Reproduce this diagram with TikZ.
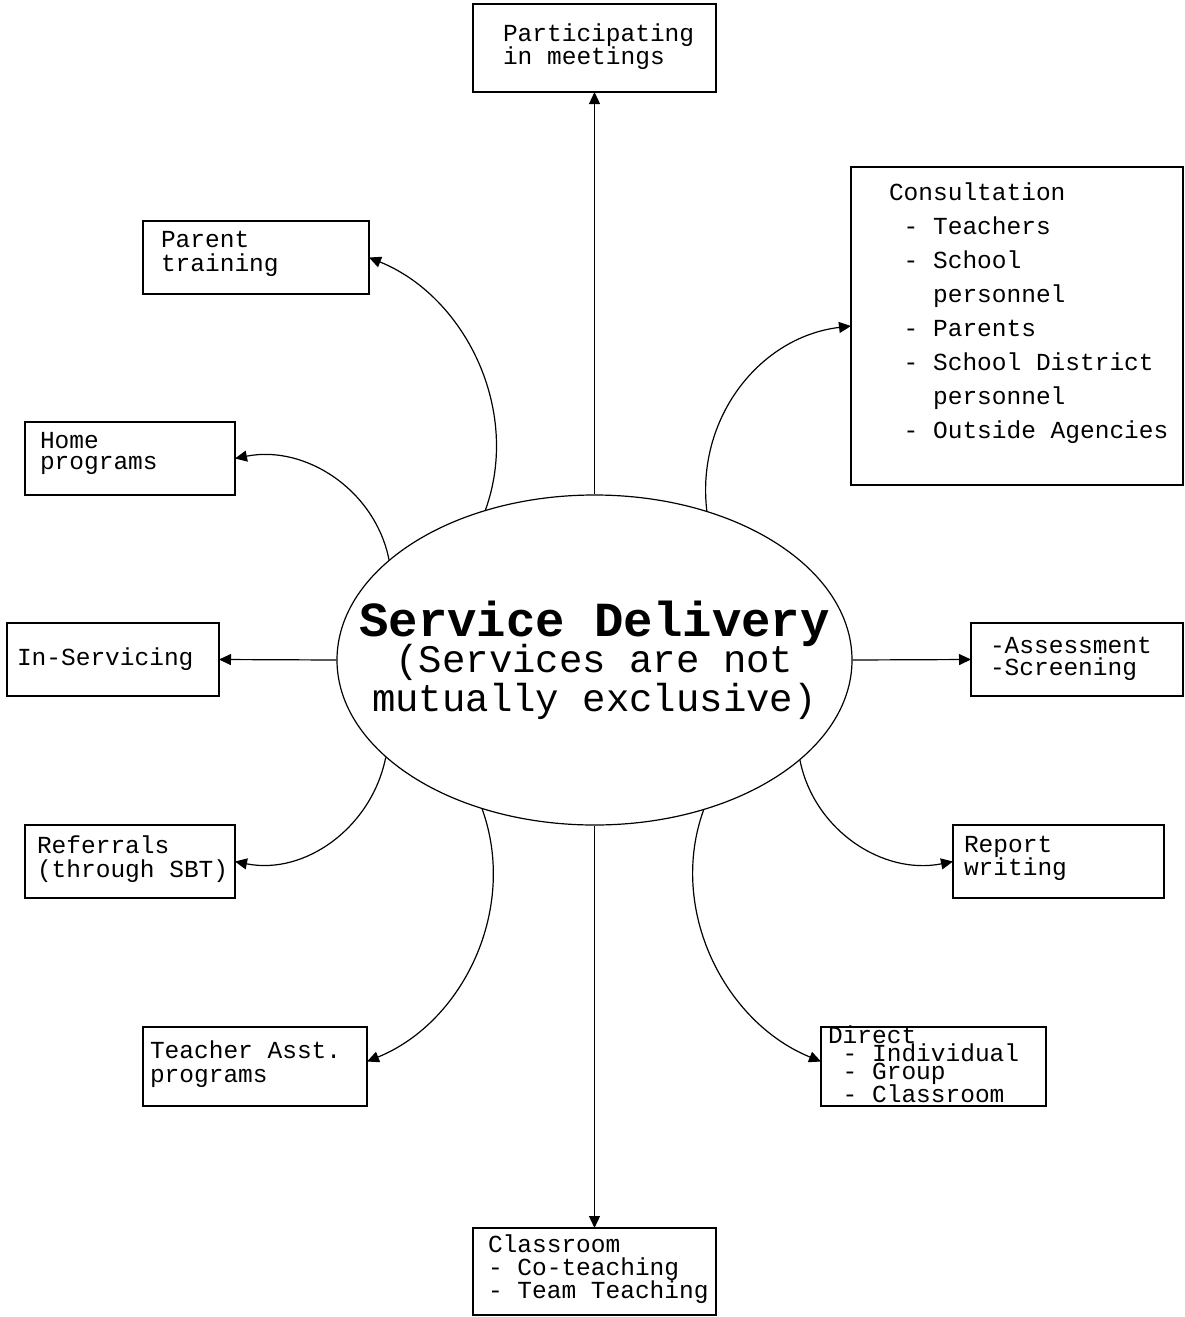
\documentclass[tikz,border=0pt]{standalone}
\usepackage{fontspec}
\setmainfont{Liberation Mono}
\usepackage{tikz}
\usetikzlibrary{shapes.geometric,arrows.meta}
\hyphenpenalty=10000
\exhyphenpenalty=10000
\lineskiplimit=-100pt
\newcommand{\boxsize}[1]{\fontsize{24.5}{#1}\selectfont}
\newcommand{\chsp}{\hspace*{14.7pt}}
\tikzset{
  box/.style={draw, line width=1.4pt, anchor=north west, align=left, inner ysep=0pt, outer sep=0pt},
  link/.style={->, line width=1.2pt}
}

\begin{document}
\begin{tikzpicture}[x=1pt, y=-1pt, >={Triangle[length=12pt,width=11pt]}]
  \useasboundingbox (0,0) rectangle (1184,1317);

  \node[draw, ellipse, line width=1.2pt, minimum width=515pt, minimum height=330pt,
        inner xsep=-60pt, inner ysep=0pt, align=center, font=\fontsize{39}{39}\selectfont]
        (sd) at (594.5,660)
        {{\fontsize{49}{49}\selectfont\bfseries Service Delivery}\\[-3pt](Services are not\\mutually exclusive)};

  \node[box, inner xsep=30pt, text width=183pt, text height=37pt, text depth=51pt, font=\boxsize{23}]
        (meet) at (473,4) {Participating\\in\chsp{}meetings};
  \node[box, inner xsep=38pt, text width=256pt, text height=33pt, text depth=285pt, font=\boxsize{34}]
        (consult) at (851,167)
        {Consultation\\\chsp-\chsp{}Teachers\\\chsp-\chsp{}School\\\chsp\chsp\chsp{}personnel\\\chsp-\chsp{}Parents\\\chsp-\chsp{}School\chsp{}District\\\chsp\chsp\chsp{}personnel\\\chsp-\chsp{}Outside\chsp{}Agencies};
  \node[box, inner xsep=18pt, text width=190pt, text height=26pt, text depth=47pt, font=\boxsize{24}]
        (parent) at (143,221) {Parent\\training};
  \node[box, inner xsep=15pt, text width=180pt, text height=26pt, text depth=47pt, font=\boxsize{21}]
        (home) at (25,422) {Home\\programs};
  \node[box, inner xsep=10pt, text width=192pt, text height=42pt, text depth=31pt, font=\boxsize{24}]
        (inserv) at (7,623) {In-Servicing};
  \node[box, inner xsep=19pt, text width=174pt, text height=30pt, text depth=43pt, font=\boxsize{22}]
        (assess) at (971,623) {-Assessment\\-Screening};
  \node[box, inner xsep=12pt, text width=186pt, text height=28pt, text depth=45pt, font=\boxsize{24}]
        (refer) at (25,825) {Referrals\\(through\chsp{}SBT)};
  \node[box, inner xsep=11pt, text width=189pt, text height=27pt, text depth=46pt, font=\boxsize{23}]
        (report) at (953,825) {Report\\writing};
  \node[box, inner xsep=7pt, text width=210pt, text height=31pt, text depth=48pt, font=\boxsize{24}]
        (teacher) at (143,1027) {Teacher\chsp{}Asst.\\programs};
  \node[box, inner xsep=7pt, text width=211pt, text height=16pt, text depth=63pt, font=\boxsize{18}]
        (direct) at (821,1027) {Direct\\\chsp-\chsp{}Individual\\\chsp-\chsp{}Group\\\chsp-\chsp{}Classroom};
  \node[box, inner xsep=15pt, text width=213pt, text height=24pt, text depth=63pt, font=\boxsize{20}]
        (classroom) at (473,1228) {Classroom\\[3pt]-\chsp{}Co-teaching\\-\chsp{}Team\chsp{}Teaching};

  \draw[link] (sd.north) -- (meet.south);
  \draw[link] (sd.south) -- (classroom.north);
  \draw[link] (sd.west) -- (inserv.east);
  \draw[link] (sd.east) -- (assess.west);

  \draw[link] (sd.126.6) .. controls +(36,-100) and +(96,39) .. (parent.east);
  \draw[link] (sd.154.9) .. controls +(-14,-70) and +(70,-14) .. (home.east);
  \draw[link] (sd.53.4) .. controls +(-11,-92) and +(-92,11) .. (consult.west);
  \draw[link] (sd.205.1) .. controls +(-14,70) and +(70,14) .. (refer.east);
  \draw[link] (sd.334.9) .. controls +(14,70) and +(-70,14) .. (report.west);
  \draw[link] (sd.233.4) .. controls +(36,100) and +(96,-39) .. ([yshift=5pt]teacher.east);
  \draw[link] (sd.306.6) .. controls +(-36,100) and +(-96,-39) .. ([yshift=5pt]direct.west);
\end{tikzpicture}
\end{document}
